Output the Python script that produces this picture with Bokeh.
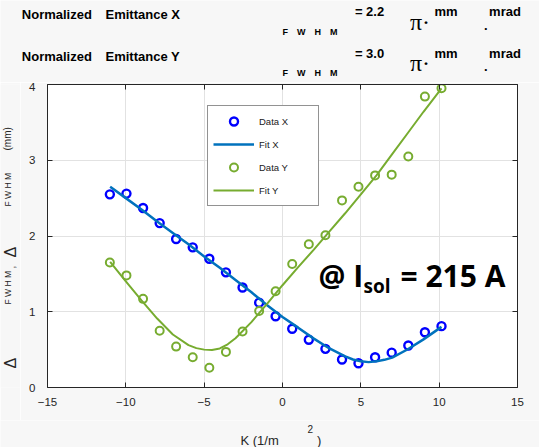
from math import pi

from bokeh.embed import file_html
from bokeh.layouts import column, row
from bokeh.models import (FixedTicker, Label, Legend, LegendItem, LinearAxis,
                          Range1d)
from bokeh.plotting import figure
from bokeh.resources import INLINE

# Measured FWHM beam sizes (mm) against quadrupole strength K (1/m^2)
k_data = [-11.02, -9.96, -8.90, -7.84, -6.79, -5.73, -4.67, -3.61, -2.55, -1.49,
          -0.44, 0.62, 1.68, 2.74, 3.80, 4.85, 5.91, 6.97, 8.03, 9.09, 10.15]
size_x = [2.55, 2.56, 2.37, 2.17, 1.96, 1.85, 1.70, 1.52, 1.32, 1.12,
          0.94, 0.775, 0.63, 0.51, 0.37, 0.32, 0.40, 0.46, 0.555, 0.73, 0.81]
size_y = [1.65, 1.48, 1.17, 0.75, 0.54, 0.40, 0.26, 0.47, 0.74, 1.01,
          1.27, 1.63, 1.89, 2.01, 2.47, 2.65, 2.80, 2.81, 3.05, 3.84, 3.95]

# Fitted envelope curves
k_fit_x = [-11.0, -10.0, -9.0, -8.0, -7.0, -6.0, -5.0, -4.0, -3.0, -2.0, -1.0, 0.0,
           1.0, 2.0, 3.0, 4.0, 4.5, 5.0, 5.5, 6.0, 6.5, 7.0, 8.0, 9.0, 10.15]
fit_x = [2.65, 2.50, 2.35, 2.19, 2.04, 1.89, 1.73, 1.58, 1.42, 1.26, 1.09, 0.93,
         0.79, 0.645, 0.515, 0.41, 0.37, 0.345, 0.335, 0.345, 0.365, 0.395, 0.505, 0.635, 0.80]
k_fit_y = [-11.0, -10.0, -9.0, -8.0, -7.0, -6.0, -5.5, -5.0, -4.5, -4.0, -3.5, -3.0,
           -2.0, -1.0, 0.0, 1.0, 2.0, 3.0, 4.0, 5.0, 6.0, 7.0, 8.0, 9.0, 10.15]
fit_y = [1.66, 1.40, 1.15, 0.91, 0.70, 0.56, 0.52, 0.50, 0.495, 0.515, 0.57, 0.65,
         0.86, 1.10, 1.35, 1.59, 1.82, 2.06, 2.30, 2.55, 2.80, 3.08, 3.36, 3.64, 3.95]

x_ticks = [-15, -10, -5, 0, 5, 10, 15]
y_ticks = [0, 1, 2, 3, 4]

series_names = ["Data X", "Fit X", "Data Y", "Fit Y"]
emittance_rows = [("Emittance X", "= 2.2"), ("Emittance Y", "= 3.0")]

# page geometry (pixels): heading strip, side strip, plot, footer strip
W, H = 539, 447
HEAD = 82          # heading strip height
SIDE = 20          # strip left of the plot for the vertical title
FOOT = 420         # footer strip starts here
L, R, T, B = 47, 22, 84, 60     # plot box margins inside the page
FW, FH = W - L - R, H - T - B

BG = "#f7f7f7"
AX = "#262626"
FONT = "Liberation Sans"


def text_strip(width, height, x0, x1, y0, y1):
    """A bare figure whose data units are page pixels (y downward)."""
    f = figure(width=width, height=height,
               x_range=Range1d(x0, x1), y_range=Range1d(y1, y0),
               min_border=0, min_border_left=0, min_border_right=0,
               min_border_top=0, min_border_bottom=0,
               x_axis_location=None, y_axis_location=None,
               output_backend="svg", toolbar_location=None,
               background_fill_color=BG, border_fill_color=BG,
               outline_line_color=None)
    f.grid.visible = False
    return f


def put(f, text, cx, cy, size, bold=False, font=FONT, color="black", angle=0.0):
    """Text whose left end sits at cx, vertically centred on cy."""
    f.add_layout(Label(x=cx, y=cy, text=text, text_font=font,
                       text_font_size=f"{size}px",
                       text_font_style="bold" if bold else "normal",
                       text_color=color, angle=angle,
                       text_align="left", text_baseline="middle"))


# ---- main plot ----
p = figure(frame_width=FW, frame_height=FH,
           min_border_left=L - SIDE, min_border_right=R,
           min_border_top=T - HEAD, min_border_bottom=FOOT - (T + FH),
           x_range=Range1d(-15, 15), y_range=Range1d(0, 4),
           output_backend="svg", toolbar_location=None,
           background_fill_color="white", border_fill_color=BG,
           outline_line_color=None)


def style_axis(ax, ticks, labels=True, standoff=10):
    ax.ticker = FixedTicker(ticks=ticks)
    ax.axis_line_color = AX
    ax.axis_line_width = 1
    ax.major_tick_in = 5
    ax.major_tick_out = 0
    ax.major_tick_line_color = AX
    ax.minor_tick_line_color = None
    ax.major_label_text_font = FONT
    ax.major_label_text_font_size = "11.5px"
    ax.major_label_text_color = AX
    ax.major_label_standoff = standoff
    if not labels:
        ax.major_label_overrides = {t: "" for t in ticks}
        ax.major_label_text_font_size = "0px"


style_axis(p.xaxis[0], x_ticks, standoff=10)
style_axis(p.yaxis[0], y_ticks, standoff=12)
top_axis = LinearAxis()
right_axis = LinearAxis()
style_axis(top_axis, x_ticks, labels=False, standoff=0)
style_axis(right_axis, y_ticks, labels=False, standoff=0)
p.add_layout(top_axis, "above")
p.add_layout(right_axis, "right")

p.xgrid.ticker = FixedTicker(ticks=x_ticks)
p.ygrid.ticker = FixedTicker(ticks=y_ticks)
p.grid.grid_line_color = "#e2e2e2"
p.grid.grid_line_width = 1

r_dx = p.scatter(k_data, size_x, marker="circle", size=8, fill_color=None,
                 line_color="#0000ff", line_width=2.4)
r_fx = p.line(k_fit_x, fit_x, line_color="#0072bd", line_width=2.5)
r_dy = p.scatter(k_data, size_y, marker="circle", size=8, fill_color=None,
                 line_color="#77ac30", line_width=2)
r_fy = p.line(k_fit_y, fit_y, line_color="#77ac30", line_width=2)

legend = Legend(
    items=[LegendItem(label=n, renderers=[r]) for n, r in
           zip(series_names, [r_dx, r_fx, r_dy, r_fy])],
    location=(160, 181), orientation="vertical",
    label_text_font=FONT, label_text_font_size="9.5px", label_text_color="#1a1a1a",
    label_text_baseline="bottom",
    border_line_color=AX, border_line_width=1,
    background_fill_color="white", background_fill_alpha=1,
    padding=5, spacing=3, margin=0,
    glyph_width=41, glyph_height=20, label_height=20, label_width=54, label_standoff=5,
)
p.add_layout(legend)


def put_in_plot(text, cx, cy, size, font="Open Sans"):
    p.add_layout(Label(x=cx - L, y=(T + FH) - cy, x_units="screen", y_units="screen",
                       text=text, text_font=font, text_font_size=f"{size}px",
                       text_font_style="bold", text_color="black",
                       text_align="left", text_baseline="middle"))


# solenoid current annotation
put_in_plot("@ I", 318, 274.5, 30)
put_in_plot("sol", 363, 285.5, 19)
put_in_plot("= 215 A", 400, 274.5, 30)

# ---- heading: normalized emittances ----
head = text_strip(W, HEAD, 0, W, 0, HEAD)
for i, (name, val) in enumerate(emittance_rows):
    dy = 41.5 * i
    put(head, "Normalized", 21.3, 14.2 + dy, 13, bold=True)
    put(head, name, 105, 14.2 + dy, 13, bold=True)
    put(head, "F\u2003W\u2003H\u2003M", 282, 31.2 + dy, 9, bold=True)
    put(head, val, 354.4, 11.0 + dy, 13, bold=True)
    put(head, "\u03c0\u00b7", 409.5, 21.4 + dy, 24, font="Liberation Serif")
    put(head, "mm", 434, 11.0 + dy, 13, bold=True)
    put(head, ".", 483.5, 24.5 + dy, 13, bold=True)
    put(head, "mrad", 488.6, 11.0 + dy, 13, bold=True)

# ---- vertical axis title, reading upwards ----
# the strip's drawing area lines up with the plot box, so its range spans the box rows
side = text_strip(SIDE, FOOT - HEAD, 0, SIDE, T, T + FH)
up = pi / 2
put(side, "\u0394", 9.5, 368, 16, color=AX, angle=up)
put(side, "F W H M", 7.5, 304, 8.5, color=AX, angle=up)
put(side, ",", 10.5, 268, 10, color=AX, angle=up)
put(side, "\u0394", 9.5, 257, 16, color=AX, angle=up)
put(side, "F W H M", 7.5, 206, 8.5, color=AX, angle=up)
put(side, "(mm)", 6.5, 150, 10, color=AX, angle=up)

# ---- horizontal axis title ----
foot = text_strip(W, H - FOOT, 0, W, FOOT, H)
put(foot, "K (1/m", 240, 439.5, 13, color=AX)
put(foot, "2", 307, 428.5, 10, color=AX)
put(foot, ")", 316.6, 439.5, 13, color=AX)

page = column(head, row(side, p, spacing=0), foot, spacing=0)

open("out.html", "w").write(file_html(page, INLINE))
